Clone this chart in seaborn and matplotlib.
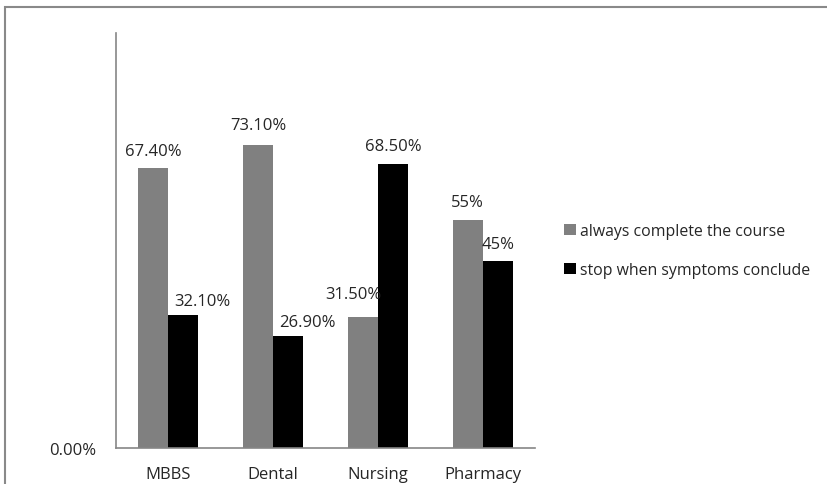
import pandas as pd
import matplotlib.pyplot as plt
import seaborn as sns
from matplotlib.patches import Rectangle

# datos
courses = ["MBBS", "Dental", "Nursing", "Pharmacy"]
series = ["always complete the course", "stop when symptoms conclude"]
complete_vals = [0.674, 0.731, 0.315, 0.55]
stop_vals = [0.321, 0.269, 0.685, 0.45]
complete_labels = ["67.40%", "73.10%", "31.50%", "55%"]
stop_labels = ["32.10%", "26.90%", "68.50%", "45%"]

df = pd.DataFrame({
    "course": courses * 2,
    "value": complete_vals + stop_vals,
    "response": [series[0]] * 4 + [series[1]] * 4,
})

sns.set_style("white")
plt.rcParams["font.family"] = ["Open Sans", "DejaVu Sans"]
fs = 12

fig = plt.figure(figsize=(8.27, 4.85), dpi=100)
ax = fig.add_axes([0.1403, 0.0742, 0.5067, 0.8557])

sns.barplot(data=df, x="course", y="value", hue="response", order=courses,
            hue_order=series, palette=["#808080", "#000000"], saturation=1,
            width=0.573, linewidth=0, ax=ax)

ax.set_ylim(0, 1)
ax.set_xlim(-0.5, 3.5)
ax.set_yticks([0])
ax.set_yticklabels(["0.00%"], fontsize=fs)
ax.set_xticks(range(4))
ax.set_xticklabels(courses, fontsize=fs)
ax.set_xticks([-0.5, 0.5, 1.5, 2.5, 3.5], minor=True)
ax.tick_params(axis="x", which="major", length=0, pad=13)
ax.tick_params(axis="x", which="minor", length=5, width=1.2, color="#868686", direction="out")
ax.tick_params(axis="y", length=6, width=1.2, color="#868686", direction="out", pad=8)
ax.set_xlabel("")
ax.set_ylabel("")
for s in ["top", "right"]:
    ax.spines[s].set_visible(False)
for s in ["left", "bottom"]:
    ax.spines[s].set_color("#868686")
    ax.spines[s].set_linewidth(1.2)

# etiquetas de valor (con el desplazamiento que usa el original)
nudges = [[0, 0, -10, 0], [19, 19, 0, 0]]
extra_up = [[0, 2, 6, 0], [-4, -3, 0, 0]]
for i, (cont, labs) in enumerate(zip(ax.containers, [complete_labels, stop_labels])):
    for j, (bar, lab) in enumerate(zip(cont, labs)):
        ax.annotate(lab, (bar.get_x() + bar.get_width() / 2, bar.get_height()),
                    xytext=(nudges[i][j] * 0.72, 7 + extra_up[i][j] * 0.72),
                    textcoords="offset points", ha="center", va="bottom", fontsize=fs)

ax.legend(frameon=False, loc="center left", bbox_to_anchor=(0.665, 0.482),
          bbox_transform=fig.transFigure, fontsize=11.4, handlelength=0.72,
          handleheight=0.72, handletextpad=0.3, labelspacing=1.45)

# marco del gráfico
fig.patches.append(Rectangle((0.0065, -0.1), 1.2, 1.0835,
                             transform=fig.transFigure, fill=False,
                             edgecolor="#898989", linewidth=1.5, clip_on=False))

fig.savefig("out.png", dpi=100)
